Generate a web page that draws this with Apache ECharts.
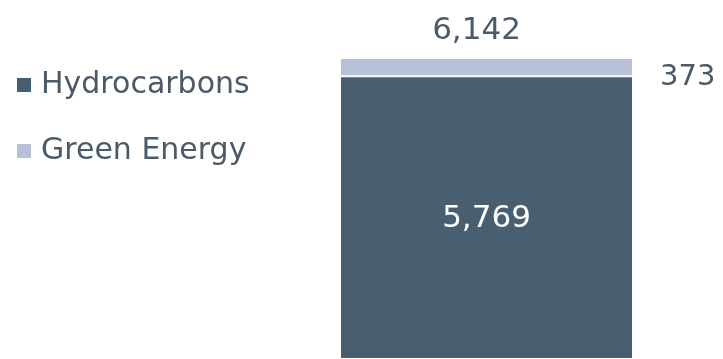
<!DOCTYPE html>
<html><head><meta charset="utf-8">
<script src="https://cdn.jsdelivr.net/npm/echarts@6/dist/echarts.min.js"></script>
<style>html,body{margin:0;padding:0;background:#fff}#c{width:723px;height:359px}</style>
</head><body><div id="c"></div>
<script>
const categories = ['Total'];
const hydrocarbons = [5769];
const greenEnergy = [373];
const totals = [6142];
const seriesNames = ['Hydrocarbons', 'Green Energy'];

const fmt = v => v.toLocaleString('en-US');
const font = 'DejaVu Sans';
const chart = echarts.init(document.getElementById('c'));
chart.setOption({
  animation: false,
  legend: {
    orient: 'vertical', left: 10, top: 64,
    itemWidth: 16, itemHeight: 16, itemGap: 34,
    icon: 'rect',
    textStyle: { fontFamily: font, fontSize: 30, color: '#4b5a69', lineHeight: 32, padding: [0, 0, 0, 4] },
    data: seriesNames
  },
  grid: { left: 340, right: 90, top: 58, bottom: -31 },
  xAxis: { type: 'category', data: categories, show: false },
  yAxis: { type: 'value', min: 0, max: totals[0], show: false },
  series: [
    {
      name: seriesNames[0], type: 'bar', stack: 's', barWidth: '100%',
      data: hydrocarbons,
      itemStyle: { color: '#475f70', borderColor: '#fff', borderWidth: 1 },
      label: { show: true, position: 'inside', offset: [0, 1], color: '#fff',
        fontFamily: font, fontSize: 31, formatter: p => fmt(p.value) }
    },
    {
      name: seriesNames[1], type: 'bar', stack: 's', barWidth: '100%',
      data: greenEnergy,
      itemStyle: { color: '#b7c1d6', borderColor: '#fff', borderWidth: 1 },
      label: { show: true, position: 'right', distance: 27, offset: [0, 10], color: '#4b5a69',
        fontFamily: font, fontSize: 29, formatter: p => fmt(p.value) }
    },
    {
      name: 'totalLabel', type: 'bar', stack: 's', barWidth: '100%',
      data: [0], itemStyle: { color: 'transparent' }, silent: true,
      label: { show: true, position: 'top', distance: 12, offset: [-10, 0], color: '#4b5a69',
        fontFamily: font, fontSize: 31, formatter: p => fmt(totals[p.dataIndex]) }
    }
  ]
});
</script></body></html>
